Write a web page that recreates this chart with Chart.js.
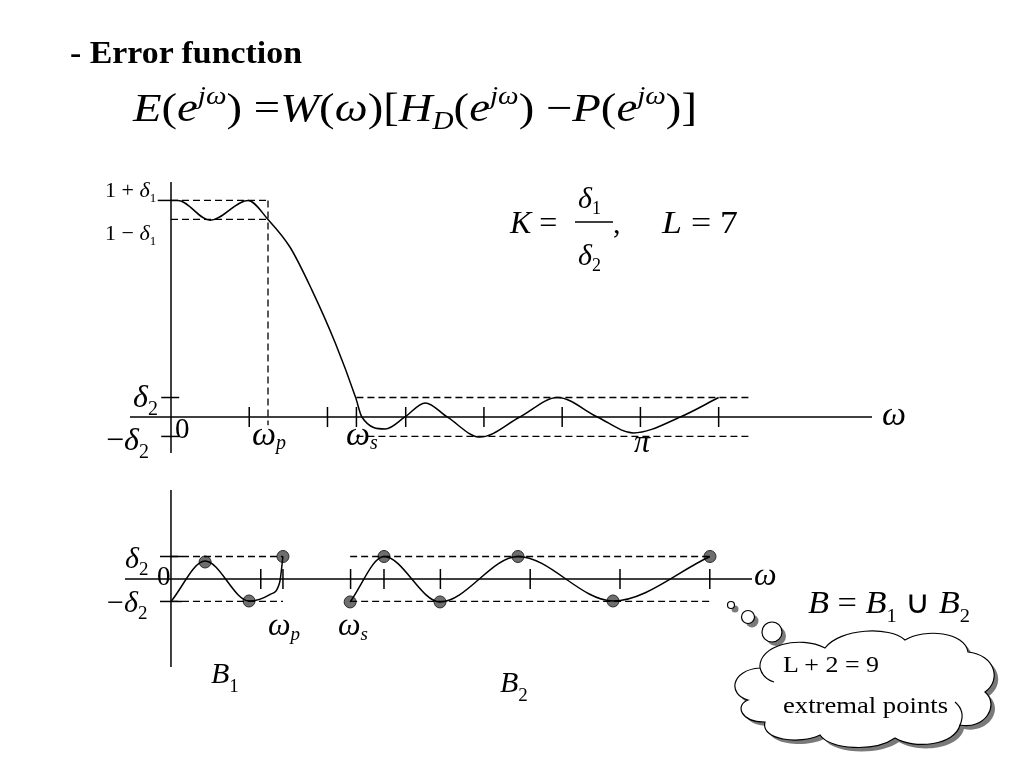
<!DOCTYPE html>
<html>
<head>
<meta charset="utf-8">
<script src="https://cdn.jsdelivr.net/npm/chart.js@4.4.1/dist/chart.umd.min.js"></script>
<style>
  html, body { margin: 0; padding: 0; background: #fff; }
  #wrap { position: relative; width: 1024px; height: 768px; overflow: hidden; }
  #wrap canvas, #wrap svg { position: absolute; left: 0; top: 0; }
  svg text { font-family: "Liberation Serif", "Times New Roman", serif; fill: #000; white-space: pre; }
  .i { font-style: italic; }
</style>
</head>
<body>
<div id="wrap">
  <canvas id="topChart" width="1024" height="768"></canvas>
  <canvas id="bottomChart" width="1024" height="768"></canvas>
  <svg width="1024" height="768" viewBox="0 0 1024 768">
    <!-- heading + formula -->
    <text x="70" y="63" font-size="31" font-weight="bold" textLength="232" lengthAdjust="spacingAndGlyphs">- Error function</text>
    <text x="133" y="121" font-size="40" textLength="564" lengthAdjust="spacingAndGlyphs"><tspan class="i">E</tspan>(<tspan class="i">e</tspan><tspan class="i" font-size="25" dy="-17">jω</tspan><tspan dy="17">) =</tspan><tspan class="i">W</tspan>(<tspan class="i">ω</tspan>)[<tspan class="i">H</tspan><tspan class="i" font-size="25" dy="8">D</tspan><tspan dy="-8">(</tspan><tspan class="i">e</tspan><tspan class="i" font-size="25" dy="-17">jω</tspan><tspan dy="17">) −</tspan><tspan class="i">P</tspan>(<tspan class="i">e</tspan><tspan class="i" font-size="25" dy="-17">jω</tspan><tspan dy="17">)]</tspan></text>

    <!-- top chart labels -->
    <text x="105" y="197" font-size="22">1 + <tspan class="i">δ</tspan><tspan font-size="13" dy="5">1</tspan></text>
    <text x="105" y="240" font-size="22">1 − <tspan class="i">δ</tspan><tspan font-size="13" dy="5">1</tspan></text>
    <text x="133" y="407" font-size="32"><tspan class="i">δ</tspan><tspan font-size="20" dy="8">2</tspan></text>
    <text x="106" y="450" font-size="32">−<tspan class="i">δ</tspan><tspan font-size="20" dy="8">2</tspan></text>
    <text x="175" y="438" font-size="29">0</text>
    <text x="252" y="445" font-size="34"><tspan class="i">ω</tspan><tspan class="i" font-size="20" dy="4">p</tspan></text>
    <text x="346" y="445" font-size="34"><tspan class="i">ω</tspan><tspan class="i" font-size="20" dy="4">s</tspan></text>
    <text x="634" y="452" font-size="32" class="i">π</text>
    <text x="882" y="425" font-size="34" class="i">ω</text>

    <text x="510" y="233" font-size="32"><tspan class="i">K</tspan> =</text>
    <text x="578" y="208" font-size="30"><tspan class="i">δ</tspan><tspan font-size="18" dy="6">1</tspan></text>
    <line x1="575" y1="222" x2="613" y2="222" stroke="#000" stroke-width="1.5"/>
    <text x="578" y="265" font-size="30"><tspan class="i">δ</tspan><tspan font-size="18" dy="6">2</tspan></text>
    <text x="613" y="233" font-size="30">,</text>
    <text x="662" y="233" font-size="32" textLength="76" lengthAdjust="spacingAndGlyphs"><tspan class="i">L</tspan> = 7</text>

    <!-- bottom chart labels -->
    <text x="125" y="568" font-size="30"><tspan class="i">δ</tspan><tspan font-size="19" dy="7">2</tspan></text>
    <text x="157" y="585" font-size="27">0</text>
    <text x="107" y="612" font-size="30">−<tspan class="i">δ</tspan><tspan font-size="19" dy="7">2</tspan></text>
    <text x="268" y="635" font-size="32"><tspan class="i">ω</tspan><tspan class="i" font-size="19" dy="5">p</tspan></text>
    <text x="338" y="635" font-size="32"><tspan class="i">ω</tspan><tspan class="i" font-size="19" dy="5">s</tspan></text>
    <text x="754" y="585" font-size="32" class="i">ω</text>
    <text x="211" y="683" font-size="30"><tspan class="i">B</tspan><tspan font-size="19" dy="9">1</tspan></text>
    <text x="500" y="692" font-size="30"><tspan class="i">B</tspan><tspan font-size="19" dy="9">2</tspan></text>
    <text x="808" y="613" font-size="32" textLength="162" lengthAdjust="spacingAndGlyphs"><tspan class="i">B</tspan> = <tspan class="i">B</tspan><tspan font-size="19" dy="9">1</tspan><tspan dy="-9"> ∪ </tspan><tspan class="i">B</tspan><tspan font-size="19" dy="9">2</tspan></text>

    <!-- thought cloud -->
    <g fill="#7a7a7a" transform="translate(4,4)">
      <circle cx="731" cy="605" r="3.5"/>
      <circle cx="748" cy="617" r="6.5"/>
      <circle cx="772" cy="632" r="10"/>
      <path d="M748 700 C728 695 730 670 760 668 C758 645 800 635 825 648 C840 628 890 626 905 640 C925 628 965 632 968 652 C995 655 1002 680 985 692 C1000 705 985 730 960 725 C955 745 915 750 895 738 C875 752 830 750 820 735 C800 745 760 740 765 722 C740 722 735 705 748 700 Z"/>
    </g>
    <g fill="#fff" stroke="#000" stroke-width="1.2">
      <circle cx="731" cy="605" r="3.5"/>
      <circle cx="748" cy="617" r="6.5"/>
      <circle cx="772" cy="632" r="10"/>
      <path d="M748 700 C728 695 730 670 760 668 C758 645 800 635 825 648 C840 628 890 626 905 640 C925 628 965 632 968 652 C995 655 1002 680 985 692 C1000 705 985 730 960 725 C955 745 915 750 895 738 C875 752 830 750 820 735 C800 745 760 740 765 722 C740 722 735 705 748 700 Z"/>
      <path d="M760 668 C762 676 768 680 774 682" fill="none"/>
      <path d="M960 725 C964 716 962 708 955 702" fill="none"/>
    </g>
    <text x="783" y="672" font-size="23" textLength="96" lengthAdjust="spacingAndGlyphs">L + 2 = 9</text>
    <text x="783" y="713" font-size="23" textLength="165" lengthAdjust="spacingAndGlyphs">extremal points</text>
  </svg>
</div>
<script>
(function () {
  'use strict';

  // shared tolerances
  const delta1 = 0.046;
  const delta2 = 0.094;

  // top chart: weighted error, omega measured in tick steps (pi at 6)
  const topOmega = [0, 0.09, 0.50, 0.985, 1.24, 1.52, 1.80, 2.10, 2.36, 2.44, 2.74, 2.99, 3.25, 3.53, 3.95, 4.46, 4.94, 5.45, 5.91, 6.51, 7.0];
  const topError = [1.046, 1.046, 0.950, 1.046, 0.954, 0.821, 0.614, 0.357, 0.094, 0, -0.058, 0, 0.068, 0, -0.097, 0, 0.094, 0, -0.077, 0, 0.094];
  const topTicks = [1, 2, 2.37, 3, 4, 5, 6, 7];
  const topWp = 1.24;
  const topWs = 2.37;
  const topXRange = [-0.524, 8.96];
  const topYRange = [-0.174, 1.135];
  const topBandEnd = 7.38;

  // bottom chart: error on the band set B = B1 u B2
  const b1Omega = [0, 0.38, 0.869, 1.10, 1.21, 1.247];
  const b1Error = [-0.094, 0.075, -0.092, -0.065, -0.015, 0.094];
  const b2Omega = [1.995, 2.372, 2.996, 3.864, 4.922, 6.002];
  const b2Error = [-0.096, 0.094, -0.096, 0.094, -0.092, 0.094];
  const extremOmega = [0.38, 0.869, 1.247, 1.995, 2.372, 2.996, 3.864, 4.922, 6.002];
  const extremError = [0.071, -0.092, 0.094, -0.096, 0.094, -0.096, 0.094, -0.092, 0.094];
  const bottomTicks = [1, 1.247, 2, 2.372, 3, 4, 5, 6];
  const bottomWp = 1.247;
  const bottomWs = 1.995;
  const bottomXRange = [-0.512, 6.47];
  const bottomYRange = [-0.368, 0.372];

  function pts(xs, ys) {
    return xs.map(function (x, i) { return { x: x, y: ys[i] }; });
  }
  function seg(x0, y0, x1, y1) {
    return [{ x: x0, y: y0 }, { x: x1, y: y1 }];
  }
  function solid(data, w) {
    return { data: data, showLine: true, borderColor: '#000', borderWidth: w || 1.5, pointRadius: 0, clip: false };
  }
  function dashed(data) {
    return { data: data, showLine: true, borderColor: '#000', borderWidth: 1.3, borderDash: [7, 4], pointRadius: 0, clip: false };
  }
  function curve(data) {
    return { data: data, showLine: true, borderColor: '#000', borderWidth: 1.5, pointRadius: 0, cubicInterpolationMode: 'monotone', clip: false };
  }
  function ticks(data, rot, r) {
    return { data: data, showLine: false, pointStyle: 'line', rotation: rot, pointRadius: r, borderColor: '#000', borderWidth: 1.5, clip: false };
  }

  function options(xr, yr, pad) {
    return {
      responsive: false,
      animation: false,
      layout: { padding: pad },
      plugins: { legend: { display: false }, tooltip: { enabled: false } },
      scales: {
        x: { type: 'linear', min: xr[0], max: xr[1], display: false },
        y: { type: 'linear', min: yr[0], max: yr[1], display: false }
      }
    };
  }

  // top chart
  new Chart(document.getElementById('topChart'), {
    type: 'scatter',
    data: {
      datasets: [
        solid(seg(topXRange[0], 0, topXRange[1], 0)),
        solid(seg(0, topYRange[0], 0, topYRange[1])),
        dashed(seg(0, 1 + delta1, topWp, 1 + delta1)),
        dashed(seg(0, 1 - delta1, topWp, 1 - delta1)),
        dashed(seg(topWp, 1 + delta1, topWp, -0.04)),
        dashed(seg(topWs, delta2, topBandEnd, delta2)),
        dashed(seg(topWs, -delta2, topBandEnd, -delta2)),
        ticks(topTicks.map(function (x) { return { x: x, y: 0 }; }), 90, 10),
        ticks([{ x: -0.01, y: delta2 }, { x: -0.01, y: -delta2 }], 0, 9),
        ticks([{ x: -0.08, y: 1 + delta1 }], 0, 7),
        curve(pts(topOmega, topError))
      ]
    },
    options: options(topXRange, topYRange, { left: 130, right: 152, top: 182, bottom: 315 })
  });

  // bottom chart
  new Chart(document.getElementById('bottomChart'), {
    type: 'scatter',
    data: {
      datasets: [
        solid(seg(bottomXRange[0], 0, bottomXRange[1], 0)),
        solid(seg(0, bottomYRange[0], 0, bottomYRange[1])),
        dashed(seg(0, delta2, bottomWp, delta2)),
        dashed(seg(0, -delta2, bottomWp, -delta2)),
        dashed(seg(bottomWs, delta2, extremOmega[extremOmega.length - 1], delta2)),
        dashed(seg(bottomWs, -delta2, extremOmega[extremOmega.length - 1], -delta2)),
        ticks(bottomTicks.map(function (x) { return { x: x, y: 0 }; }), 90, 10),
        ticks([{ x: 0, y: delta2 }, { x: 0, y: -delta2 }], 0, 11),
        curve(pts(b1Omega, b1Error)),
        curve(pts(b2Omega, b2Error)),
        {
          data: pts(extremOmega, extremError),
          showLine: false,
          pointRadius: 6,
          backgroundColor: '#6e6e6e',
          borderColor: '#2a2a2a',
          borderWidth: 1,
          clip: false
        }
      ]
    },
    options: options(bottomXRange, bottomYRange, { left: 125, right: 272, top: 490, bottom: 101 })
  });
})();
</script>
</body>
</html>
